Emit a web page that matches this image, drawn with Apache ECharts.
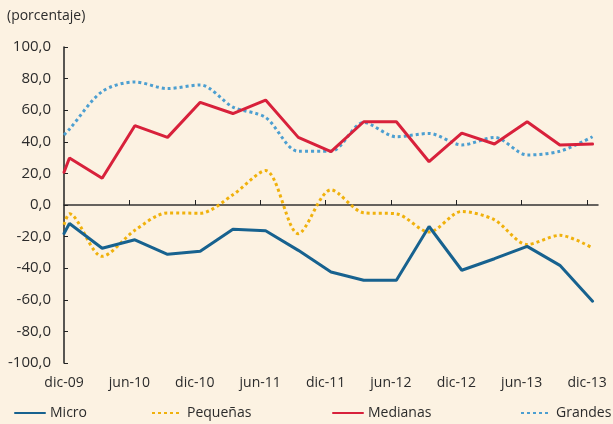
<!DOCTYPE html>
<html>
<head>
<meta charset="utf-8">
<script src="https://cdn.jsdelivr.net/npm/echarts@6/dist/echarts.min.js"></script>
<style>
  html, body { margin: 0; padding: 0; background: #fcf2e2; }
  #grafico { width: 613px; height: 424px; }
</style>
</head>
<body>
<div id="grafico"></div>
<script>
// meses contados desde dic-09 (un punto por trimestre, mas el punto inicial)
const meses = [0, 0.5, 3.5, 6.5, 9.5, 12.5, 15.5, 18.5, 21.5, 24.5, 27.5, 30.5, 33.5, 36.5, 39.5, 42.5, 45.5, 48.5]
// etiquetas del eje x, cada 6 meses
const etiquetasX = ['dic-09', 'jun-10', 'dic-10', 'jun-11', 'dic-11', 'jun-12', 'dic-12', 'jun-13', 'dic-13']

const micro = [-18, -11.7, -27.4, -22, -31.2, -29.3, -15.3, -16.3, -28.7, -42.4, -47.6, -47.6, -13.6, -41.3, -34, -26.2, -38.2, -60.9]
const pequenas = [-12.5, -5.6, -32.5, -16, -5, -5.2, 6.5, 21.8, -18.2, 9.6, -4.9, -5.6, -17.1, -4.1, -9.4, -25, -19.2, -27.2]
const medianas = [20.7, 29.8, 16.9, 50.2, 42.8, 65, 57.9, 66.4, 42.8, 33.8, 52.7, 52.7, 27.4, 45.5, 38.6, 52.7, 38, 38.6]
const grandes = [44.3, 48, 71.8, 77.9, 73.7, 76, 62, 55.4, 34, 34, 52.2, 43.2, 45.3, 38, 42.8, 31.7, 34, 43.2]

const fuente = 'Open Sans'
const colorTexto = '#2b2b2b'

// une meses y valores en pares [x, y]
function pares (valores) {
  return valores.map((v, i) => [meses[i], v])
}

function serie (nombre, valores, color, punteada) {
  return {
    name: nombre,
    type: 'line',
    xAxisIndex: 0,
    data: pares(valores),
    symbol: 'none',
    smooth: punteada ? 0.3 : false,
    lineStyle: {
      color: color,
      width: 3,
      type: punteada ? [3, 3] : 'solid',
      cap: punteada ? 'butt' : 'round'
    },
    itemStyle: { color: color },
    z: punteada ? 2 : 3
  }
}

function leyenda (nombre, izquierda) {
  return {
    data: [nombre],
    left: izquierda,
    top: 406,
    padding: 0,
    itemWidth: 30,
    itemHeight: 14,
    itemStyle: { opacity: 0 },
    textStyle: { fontFamily: fuente, fontSize: 14, color: colorTexto }
  }
}

const grafico = echarts.init(document.getElementById('grafico'))
grafico.setOption({
  backgroundColor: '#fcf2e2',
  animation: false,
  title: {
    text: '(porcentaje)',
    left: 2,
    top: 4,
    textStyle: { fontFamily: fuente, fontSize: 14, fontWeight: 'normal', color: colorTexto }
  },
  legend: [
    leyenda('Micro', 14),
    leyenda('Pequeñas', 151),
    leyenda('Medianas', 332),
    leyenda('Grandes', 520)
  ],
  grid: { left: 64, right: 15, top: 47, bottom: 61 },
  xAxis: [
    {
      // eje en el cero, solo linea y marcas
      type: 'value',
      min: 0,
      max: 49,
      axisLine: { onZero: true, lineStyle: { color: '#333', width: 1.5 } },
      axisTick: { inside: true, length: 5, customValues: [6, 12, 18, 24, 30, 36, 42, 48], lineStyle: { color: '#222' } },
      axisLabel: { show: false },
      splitLine: { show: false }
    },
    {
      // eje inferior con las etiquetas
      type: 'value',
      position: 'bottom',
      min: 0,
      max: 49,
      axisLine: { show: false, onZero: false },
      axisTick: { show: false },
      splitLine: { show: false },
      axisLabel: {
        customValues: etiquetasX.map((e, i) => i * 6),
        formatter: v => etiquetasX[Math.round(v / 6)],
        margin: 13,
        fontFamily: fuente,
        fontSize: 14,
        color: colorTexto
      }
    }
  ],
  yAxis: {
    type: 'value',
    min: -100,
    max: 100,
    interval: 20,
    axisLine: { show: true, lineStyle: { color: '#222', width: 1.5 } },
    axisTick: { show: true, inside: true, length: 4, lineStyle: { color: '#222' } },
    splitLine: { show: false },
    axisLabel: {
      margin: 13,
      fontFamily: fuente,
      fontSize: 15,
      color: colorTexto,
      formatter: v => v.toFixed(1).replace('.', ',')
    }
  },
  series: [
    serie('Micro', micro, '#17628f', false),
    serie('Pequeñas', pequenas, '#f0b10c', true),
    serie('Medianas', medianas, '#d8213b', false),
    serie('Grandes', grandes, '#4c9fd1', true)
  ]
})
</script>
</body>
</html>
